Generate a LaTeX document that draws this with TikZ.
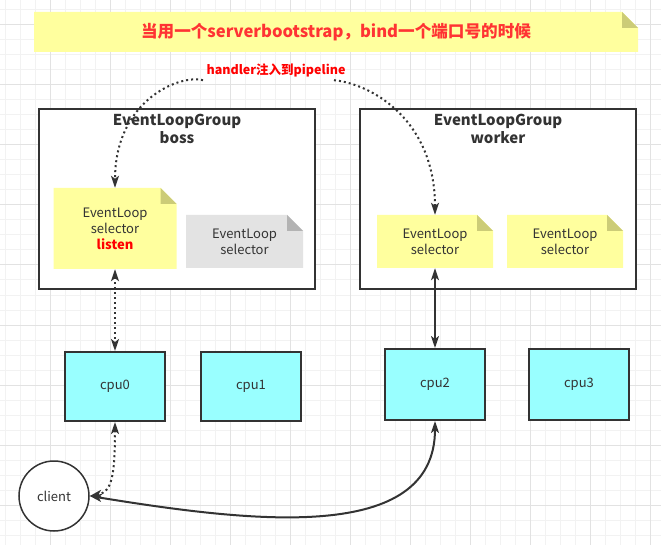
\documentclass[tikz,border=0pt]{standalone}
\usepackage{fontspec}
\setmainfont{Noto Sans CJK SC}
\usetikzlibrary{arrows.meta}
\definecolor{ntext}{HTML}{333333}
\definecolor{nyellow}{HTML}{FFFF9E}
\definecolor{nfold}{HTML}{CCCC77}
\definecolor{ngrey}{HTML}{E3E3E3}
\definecolor{ngfold}{HTML}{B3B3B3}
\definecolor{ncyan}{HTML}{99FFFF}
\definecolor{nred}{HTML}{FF3333}
\definecolor{gminor}{HTML}{F2F2F2}
\definecolor{gmajor}{HTML}{E2E2E2}
\tikzset{>={Stealth[length=12pt, width=8pt, inset=3pt]}}
\tikzset{notebox/.style 2 args = {inner sep=0pt, align=center,
                                  path picture={
                                    \path (path picture bounding box.south west) coordinate (sw)
                                          (path picture bounding box.north east) coordinate (ne);
                                    \fill [#1] (sw) -- (sw|-ne) -- ([xshift=-16pt]ne)
                                               -- ([yshift=-16pt]ne) -- (ne|-sw) -- cycle;
                                    \fill [#2] ([xshift=-16pt]ne) -- ([xshift=-16pt, yshift=-16pt]ne)
                                               -- ([yshift=-16pt]ne) -- cycle;}}}
\tikzset{grpbox/.style = {draw=ntext, line width=2pt, fill=white,
                          minimum width=276, minimum height=180, inner sep=0pt}}
\tikzset{grptitle/.style = {anchor=north, align=center, inner sep=2pt, text=ntext, yshift=-4pt,
                            font=\bfseries\fontsize{15}{18}\selectfont}}
\tikzset{cpubox/.style = {draw=ntext, line width=2pt, fill=ncyan, minimum width=100}}
\tikzset{dotline/.style = {ntext, line width=2pt, dash pattern=on 2pt off 3pt}}
\tikzset{solidline/.style = {ntext, line width=2pt}}

\begin{document}
\begin{tikzpicture}[x=1pt, y=-1pt, font=\fontsize{13}{16}\selectfont, text=ntext]
  \useasboundingbox (0, 0) rectangle (661, 545);
  % grid
  \foreach \gx in {5, 20, ..., 660} \draw [gminor, line width=1pt] (\gx, 0) -- (\gx, 545);
  \foreach \gy in {10, 25, ..., 545} \draw [gminor, line width=1pt] (0, \gy) -- (661, \gy);
  \foreach \gx in {50, 110, ..., 650} \draw [gmajor, line width=1pt] (\gx, 0) -- (\gx, 545);
  \foreach \gy in {25, 85, ..., 505} \draw [gmajor, line width=1pt] (0, \gy) -- (661, \gy);

  \node [notebox={nyellow}{nfold}, minimum width=604, minimum height=40, text=nred,
         font=\bfseries\fontsize{16.6}{20}\selectfont] (title) at (336, 32)
        {当用一个serverbootstrap，bind一个端口号的时候};

  \node [grpbox, label={[grptitle]north:EventLoopGroup\\boss}] (boss) at (177, 199) {};
  \node [grpbox, label={[grptitle]north:EventLoopGroup\\worker}] (worker) at (498, 199) {};

  \node [notebox={nyellow}{nfold}, minimum width=123, minimum height=81] (bel1) at (115, 228.5)
        {EventLoop\\selector\\\textcolor{red}{\bfseries listen}};
  \node [notebox={ngrey}{ngfold}, minimum width=117, minimum height=53] (bel2) at (244.5, 241.5)
        {EventLoop\\selector};
  \node [notebox={nyellow}{nfold}, minimum width=116, minimum height=53] (wel1) at (435, 241.5)
        {EventLoop\\selector};
  \node [notebox={nyellow}{nfold}, minimum width=116, minimum height=53] (wel2) at (565, 241.5)
        {EventLoop\\selector};

  \node [cpubox, minimum height=69] (cpu0) at (115, 386.5) {cpu0};
  \node [cpubox, minimum height=69] (cpu1) at (251, 386.5) {cpu1};
  \node [cpubox, minimum height=71] (cpu2) at (435, 384.5) {cpu2};
  \node [cpubox, minimum height=71] (cpu3) at (579, 384.5) {cpu3};

  \node [draw=ntext, line width=1.5pt, fill=white, circle, minimum size=70, inner sep=0pt]
        (client) at (54, 496) {client};

  \node [text=red, font=\bfseries\fontsize{12.5}{14}\selectfont] (hdl) at (276, 70)
        {handler注入到pipeline};

  \draw [dotline, ->] (hdl.south west) .. controls (180, 74) and (115, 100) .. (bel1.north);
  \draw [dotline, ->] ([xshift=-15pt]hdl.south east) .. controls (372, 84) and (435, 120) .. (wel1.north);
  \draw [dotline, <->] (bel1.south) -- (cpu0.north);
  \draw [solidline, <->] (wel1.south) -- (cpu2.north);
  \draw [dotline, <->] (cpu0.south) .. controls (115, 475) and (112, 492) .. (client.east);
  \draw [solidline, <->] (client.east) .. controls (250, 522) and (435, 545) .. (cpu2.south);
\end{tikzpicture}
\end{document}
